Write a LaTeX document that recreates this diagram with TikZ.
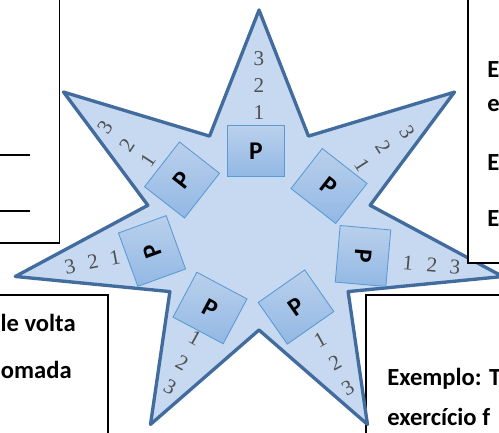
\documentclass[tikz,border=0pt]{standalone}
\usepackage{fontspec}
\setmainfont{Carlito}
\newfontfamily\digitfont{Liberation Serif}
\usepackage{tikz}
\usetikzlibrary{calc}
\definecolor{StarFill}{RGB}{198,217,240}
\definecolor{StarLine}{RGB}{66,108,158}
\definecolor{BoxLight}{RGB}{186,208,236}
\definecolor{BoxDark}{RGB}{146,184,228}
\definecolor{BoxLine}{RGB}{91,155,213}
\definecolor{DigitGray}{RGB}{80,80,80}

\begin{document}
\begin{tikzpicture}[x=0.02cm, y=-0.02cm,
	starshape/.style={fill=StarFill, draw=StarLine, line width=1.9pt, line join=round},
	pbox/.style={draw=BoxLine, line width=0.5pt, top color=BoxLight, bottom color=BoxDark,
		minimum width=32.3pt, minimum height=28.9pt, inner sep=0pt,
		font=\fontsize{14.5}{14.5}\selectfont\bfseries},
	digit/.style={text=DigitGray, inner sep=0pt, font=\digitfont\fontsize{12}{12}\selectfont},
	textbox/.style={draw=black, fill=white, line width=0.85pt},
	boxtext/.style={inner sep=0pt, font=\fontsize{14}{14}\selectfont\bfseries}]
				\useasboundingbox (0,0) rectangle (499,432);
				\clip (0,0) rectangle (499,432);
				% boxes under the star
				\draw[textbox] (366,295) rectangle (520,450);
				\draw[textbox] (-20,295) rectangle (108,450);
				% star
				\begin{scope}[shift={(259,228)}]
				\draw[starshape] (-90:250 and 218)
					\foreach \k in {0,...,6}{ -- ({-64.29+51.43*\k}:114 and 102) -- ({-38.57+51.43*\k}:250 and 218) } -- cycle;
				\end{scope}
				% boxes over the star
				\draw[textbox] (-20,-20) rectangle (59.5,243);
				\draw[textbox] (468,-20) rectangle (520,263);
				\draw[line width=0.7pt] (0,155) -- (30,155);
				\draw[line width=0.7pt] (0,211) -- (30,211);
				% squares
				\node[pbox] (ptop) at (256,151) {P};
				\node[pbox, rotate=-38] (pur) at (329,186) {P};
				\node[pbox, rotate=-95] (pr) at (363,256) {P};
				\node[pbox, rotate=35] (plr) at (296,307) {P};
				\node[pbox, rotate=-28] (pll) at (210,308) {P};
				\node[pbox, rotate=110] (pl) at (152,251) {P};
				\node[pbox, rotate=52] (pul) at (182,180) {P};
				% numbers on the arms
				\node[digit] (top1) at (259,113) {1};
				\node[digit] (top2) at (259,86) {2};
				\node[digit] (top3) at (259,59) {3};
				\node[digit, rotate=-57] (ur1) at (362,165) {1};
				\node[digit, rotate=-57] (ur2) at (383,147) {2};
				\node[digit, rotate=-57] (ur3) at (407,132) {3};
				\node[digit, rotate=57] (ul3) at (105,127) {3};
				\node[digit, rotate=57] (ul2) at (127,145) {2};
				\node[digit, rotate=57] (ul1) at (148,160) {1};
				\node[digit, rotate=11] (l3) at (70,267) {3};
				\node[digit, rotate=11] (l2) at (93,262) {2};
				\node[digit, rotate=11] (l1) at (115,258) {1};
				\node[digit, rotate=-5] (r1) at (408,263) {1};
				\node[digit, rotate=-5] (r2) at (432,265) {2};
				\node[digit, rotate=-5] (r3) at (455,267) {3};
				\node[digit, rotate=-29] (ll1) at (195,338) {1};
				\node[digit, rotate=-29] (ll2) at (182,363) {2};
				\node[digit, rotate=-29] (ll3) at (170,387) {3};
				\node[digit, rotate=29] (lr1) at (320,340) {1};
				\node[digit, rotate=29] (lr2) at (335,363) {2};
				\node[digit, rotate=29] (lr3) at (348,388) {3};
				% texts in the boxes
				\node[boxtext, anchor=base west] (e1) at (487,78) {E};
				\node[boxtext, anchor=base west] (e2) at (487,112) {e};
				\node[boxtext, anchor=base west] (e3) at (487,170) {E};
				\node[boxtext, anchor=base west] (e4) at (487,226) {E};
				\node[boxtext, anchor=base east] (volta) at (76,331) {le volta};
				\node[boxtext, anchor=base east] (omada) at (72,378) {omada};
				\node[boxtext, anchor=base west] (exemplo) at (387,385) {Exemplo: T};
				\node[boxtext, anchor=base west] (exercicio) at (387,425) {exercício f};
			\end{tikzpicture}
\end{document}
